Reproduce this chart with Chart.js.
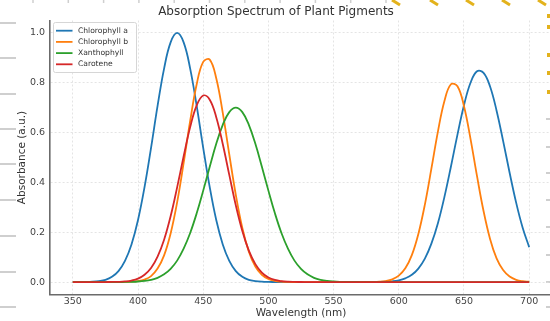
<!DOCTYPE html>
<html>
<head>
<meta charset="utf-8">
<script src="https://cdn.jsdelivr.net/npm/chart.js@4.4.1/dist/chart.umd.min.js"></script>
<style>
  html, body { margin: 0; padding: 0; background: #fff; overflow: hidden; width: 550px; height: 321px; }
  canvas { display: block; }
</style>
</head>
<body>
<canvas id="spectrum" width="602" height="321"></canvas>
<script>
// wavelength samples (nm), 5 nm apart
var wavelengths = [
  350, 355, 360, 365, 370, 375, 380, 385, 390, 395,
  400, 405, 410, 415, 420, 425, 430, 435, 440, 445,
  450, 455, 460, 465, 470, 475, 480, 485, 490, 495,
  500, 505, 510, 515, 520, 525, 530, 535, 540, 545,
  550, 555, 560, 565, 570, 575, 580, 585, 590, 595,
  600, 605, 610, 615, 620, 625, 630, 635, 640, 645,
  650, 655, 660, 665, 670, 675, 680, 685, 690, 695,
  700
];

var chlorophyllA = [
  0, 0.0002, 0.0005, 0.0015, 0.004, 0.009, 0.021, 0.044, 0.085, 0.151,
  0.249, 0.381, 0.539, 0.707, 0.857, 0.962, 1.0, 0.962, 0.857, 0.707,
  0.539, 0.381, 0.249, 0.151, 0.085, 0.044, 0.021, 0.009, 0.004, 0.0015,
  0.0005, 0.0002, 0, 0, 0, 0, 0, 0, 0, 0,
  0, 0, 0, 0, 0, 0.0001, 0.0002, 0.0005, 0.0013, 0.003,
  0.007, 0.015, 0.029, 0.054, 0.094, 0.154, 0.236, 0.342, 0.464, 0.592,
  0.710, 0.800, 0.846, 0.840, 0.785, 0.688, 0.567, 0.439, 0.319, 0.218,
  0.140
];

var chlorophyllB = [
  0, 0, 0, 0, 0, 0, 0, 0, 0.0004, 0.0013,
  0.0037, 0.010, 0.024, 0.054, 0.107, 0.195, 0.320, 0.478, 0.647, 0.794,
  0.884, 0.893, 0.818, 0.679, 0.512, 0.350, 0.217, 0.122, 0.062, 0.029,
  0.012, 0.0046, 0.0016, 0.0005, 0.0001, 0, 0, 0, 0, 0,
  0, 0, 0, 0, 0, 0.0001, 0.0004, 0.0014, 0.0041, 0.011,
  0.026, 0.055, 0.108, 0.193, 0.311, 0.455, 0.604, 0.727, 0.794, 0.786,
  0.706, 0.575, 0.425, 0.285, 0.173, 0.095, 0.048, 0.022, 0.009, 0.0033,
  0.0011
];

var xanthophyll = [
  0, 0, 0, 0, 0, 0, 0.0001, 0.0002, 0.0004, 0.0009,
  0.0021, 0.0044, 0.0089, 0.017, 0.031, 0.053, 0.086, 0.134, 0.197, 0.276,
  0.367, 0.463, 0.555, 0.631, 0.682, 0.700, 0.682, 0.631, 0.555, 0.463,
  0.367, 0.276, 0.197, 0.134, 0.086, 0.053, 0.031, 0.017, 0.0089, 0.0044,
  0.0021, 0.0009, 0.0004, 0.0002, 0, 0, 0, 0, 0, 0,
  0, 0, 0, 0, 0, 0, 0, 0, 0, 0,
  0, 0, 0, 0, 0, 0, 0, 0, 0, 0,
  0
];

var carotene = [
  0, 0, 0, 0, 0, 0, 0.0003, 0.0009, 0.0024, 0.0059,
  0.0136, 0.029, 0.056, 0.102, 0.170, 0.264, 0.380, 0.505, 0.622, 0.709,
  0.749, 0.732, 0.662, 0.554, 0.430, 0.308, 0.205, 0.126, 0.072, 0.038,
  0.0185, 0.0083, 0.0035, 0.0013, 0.0005, 0.0002, 0, 0, 0, 0,
  0, 0, 0, 0, 0, 0, 0, 0, 0, 0,
  0, 0, 0, 0, 0, 0, 0, 0, 0, 0,
  0, 0, 0, 0, 0, 0, 0, 0, 0, 0,
  0
];

var seriesNames = ['Chlorophyll a', 'Chlorophyll b', 'Xanthophyll', 'Carotene'];
var seriesValues = [chlorophyllA, chlorophyllB, xanthophyll, carotene];
var seriesColors = ['#1f77b4', '#ff7f0e', '#2ca02c', '#d62728'];

var xTicks = [350, 400, 450, 500, 550, 600, 650, 700];
var yTicks = [0, 0.2, 0.4, 0.6, 0.8, 1.0];

var font = 'DejaVu Sans';

function toPoints(values) {
  return wavelengths.map(function (w, i) { return { x: w, y: values[i] }; });
}

// page furniture around the figure (grey dashes, yellow marks)
var backdrop = {
  id: 'backdrop',
  beforeDraw: function (chart) {
    var ctx = chart.ctx;
    ctx.save();
    ctx.fillStyle = '#fff';
    ctx.fillRect(0, 0, chart.width, chart.height);

    ctx.strokeStyle = '#cfcfcf';
    ctx.lineWidth = 2;
    [23, 58, 94, 129, 164, 200, 236, 272, 307].forEach(function (y) {
      ctx.beginPath(); ctx.moveTo(0, y); ctx.lineTo(16, y); ctx.stroke();
    });
    [119, 147, 173, 200, 227, 255, 282, 307].forEach(function (y) {
      ctx.beginPath(); ctx.moveTo(546, y); ctx.lineTo(552, y); ctx.stroke();
    });
    ctx.lineWidth = 1.5;
    for (var x = 33; x < 400; x += 35.3) {
      ctx.beginPath(); ctx.moveTo(x, 0); ctx.lineTo(x, 3); ctx.stroke();
    }

    ctx.fillStyle = '#e3b21c';
    [16, 27, 55, 73, 92].forEach(function (y) {
      ctx.fillRect(547, y - 2, 5, 4);
    });
    ctx.strokeStyle = '#e3b21c';
    ctx.lineWidth = 3;
    [392, 430, 466, 502, 538].forEach(function (x) {
      ctx.beginPath(); ctx.moveTo(x, 0); ctx.lineTo(x + 8, 5); ctx.stroke();
    });
    ctx.restore();
  }
};

var legendBox = {
  id: 'legendBox',
  afterDraw: function (chart) {
    var ctx = chart.ctx;
    ctx.save();
    ctx.beginPath();
    ctx.roundRect(53.5, 22.5, 83, 50, 2);
    ctx.fillStyle = 'rgba(255,255,255,0.85)';
    ctx.fill();
    ctx.strokeStyle = '#d6d6d6';
    ctx.lineWidth = 1;
    ctx.stroke();

    ctx.font = '7.6px "' + font + '"';
    ctx.textBaseline = 'middle';
    seriesNames.forEach(function (name, i) {
      var y = 30.7 + i * 11.2;
      ctx.strokeStyle = seriesColors[i];
      ctx.lineWidth = 1.8;
      ctx.beginPath(); ctx.moveTo(56, y); ctx.lineTo(72.5, y); ctx.stroke();
      ctx.fillStyle = '#333';
      ctx.fillText(name, 78, y);
    });
    ctx.restore();
  }
};

var datasets = seriesNames.map(function (name, i) {
  return {
    label: name,
    data: toPoints(seriesValues[i]),
    borderColor: seriesColors[i],
    backgroundColor: seriesColors[i],
    borderWidth: 1.8,
    pointRadius: 0,
    tension: 0.4,
    fill: false,
    order: seriesNames.length - i // later series drawn on top
  };
});

new Chart(document.getElementById('spectrum'), {
  type: 'line',
  data: { datasets: datasets },
  plugins: [backdrop, legendBox],
  options: {
    responsive: false,
    animation: false,
    devicePixelRatio: 1,
    layout: { padding: { left: 0, right: 50, top: 0, bottom: 0 } },
    plugins: {
      legend: { display: false },
      tooltip: { enabled: false },
      title: {
        display: true,
        text: 'Absorption Spectrum of Plant Pigments',
        color: '#333',
        font: { family: font, size: 12, weight: 'normal' },
        padding: { top: 4.5, bottom: 1.6 }
      }
    },
    scales: {
      x: {
        type: 'linear',
        min: 332.5,
        max: 717.5,
        afterBuildTicks: function (scale) {
          scale.ticks = xTicks.map(function (v) { return { value: v }; });
        },
        afterFit: function (scale) { scale.height = 26.5; },
        grid: { color: '#dedede', lineWidth: 0.8, drawTicks: false },
        border: { color: '#6b6b6b', width: 1.6, dash: [2, 2] },
        ticks: {
          padding: 1.5,
          color: '#444',
          maxRotation: 0,
          autoSkip: false,
          font: { family: font, size: 9.5 }
        },
        title: {
          display: true,
          text: 'Wavelength (nm)',
          color: '#333',
          font: { family: font, size: 10.5 },
          padding: { top: 0, bottom: 1.7 }
        }
      },
      y: {
        min: -0.05,
        max: 1.05,
        afterBuildTicks: function (scale) {
          scale.ticks = yTicks.map(function (v) { return { value: v }; });
        },
        afterFit: function (scale) { scale.width = 50; },
        grid: { color: '#dedede', lineWidth: 0.8, drawTicks: false },
        border: { color: '#6b6b6b', width: 1.6, dash: [2, 2] },
        ticks: {
          padding: 5,
          color: '#444',
          font: { family: font, size: 9.5 },
          callback: function (v) { return v.toFixed(1); }
        },
        title: {
          display: true,
          text: 'Absorbance (a.u.)',
          color: '#333',
          font: { family: font, size: 10.5 },
          padding: { top: 16, bottom: 0 }
        }
      }
    }
  }
});
</script>
</body>
</html>
